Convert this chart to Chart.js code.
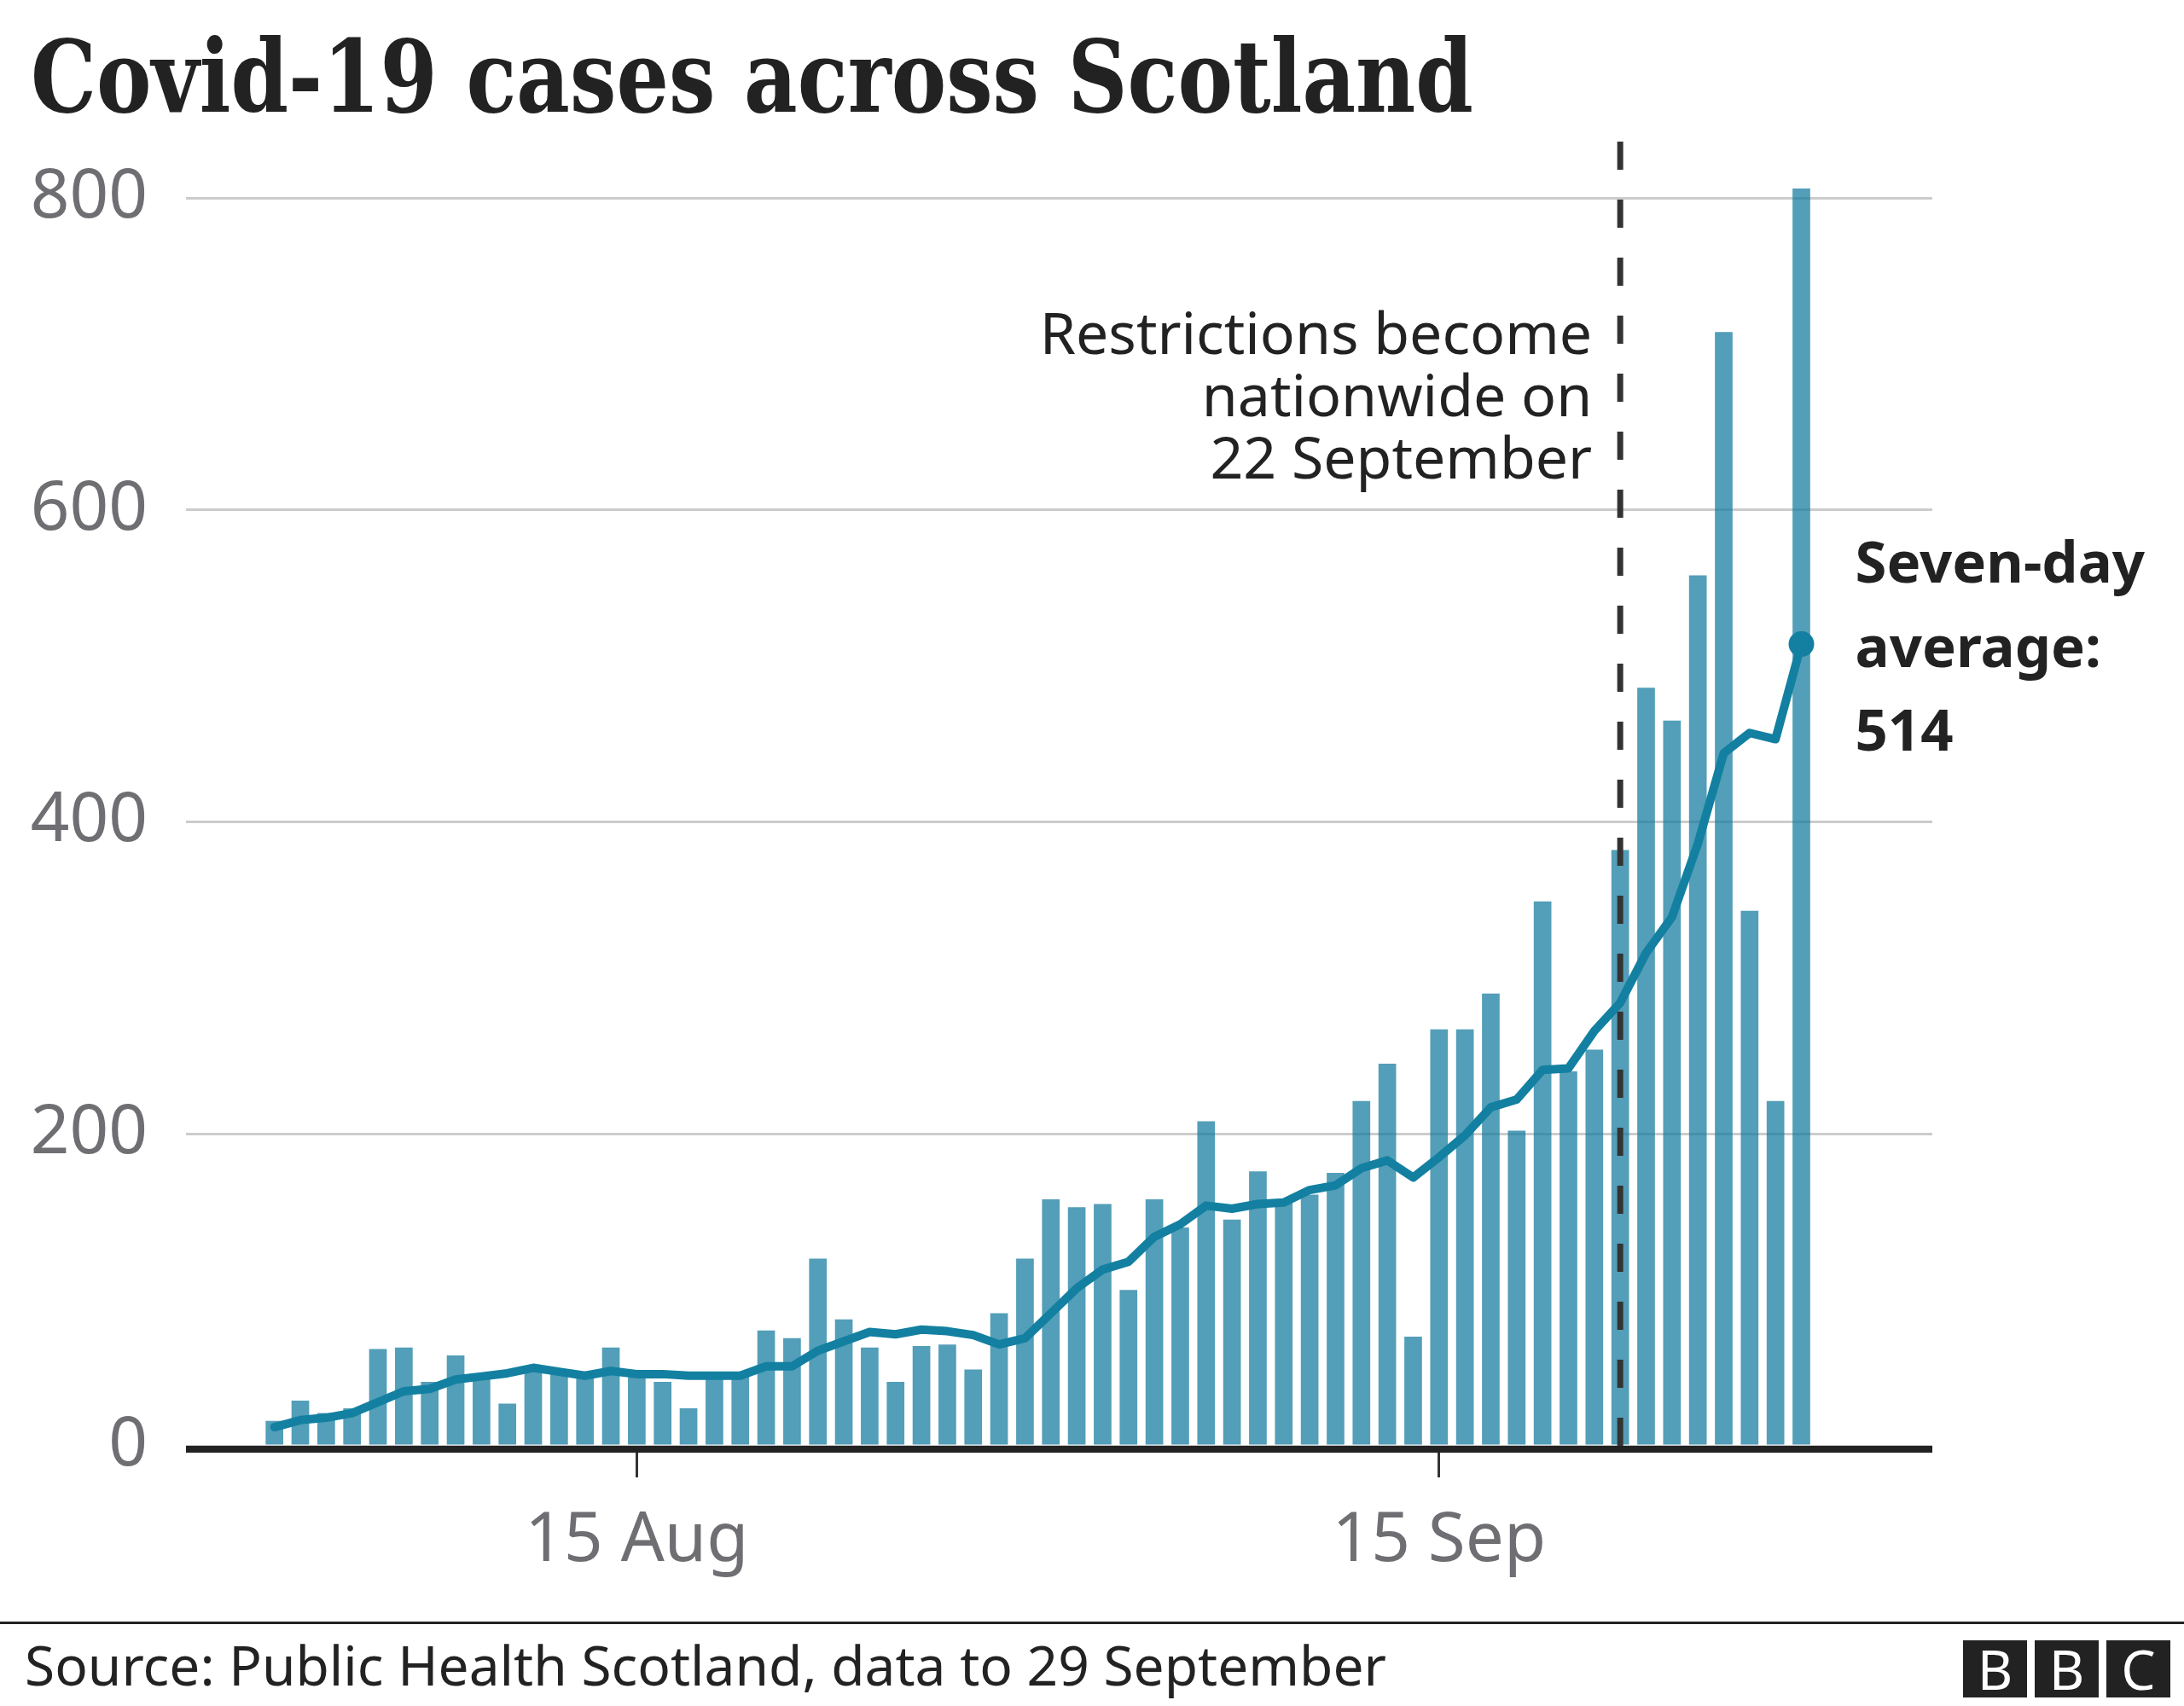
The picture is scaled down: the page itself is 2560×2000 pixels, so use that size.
<!DOCTYPE html>
<html>
<head>
<meta charset="utf-8">
<title>Covid-19 cases across Scotland</title>
<script src="https://cdn.jsdelivr.net/npm/chart.js@4.4.0/dist/chart.umd.min.js"></script>
<style>
  html, body { margin: 0; padding: 0; background: #fff; }
  #page { position: relative; width: 2560px; height: 2000px; overflow: hidden; font-family: "Noto Sans", sans-serif; color: #222; }
  #chart { position: absolute; left: 0; top: 0; }
  #title { position: absolute; left: 36px; top: 31px; font: bold 118px/118px "DejaVu Serif", serif; white-space: nowrap; transform-origin: 0 0; color: #222; }
  #note { position: absolute; font-size: 68px; line-height: 73px; text-align: right; white-space: nowrap; color: #222; }
  #avg { position: absolute; font-size: 67px; font-weight: bold; line-height: 98.5px; white-space: nowrap; color: #222; }
  #rule { position: absolute; left: 0; top: 1901px; width: 2560px; height: 3px; background: #222; }
  #source { position: absolute; left: 29px; top: 1920px; font-size: 64px; line-height: 64px; white-space: nowrap; color: #222; }
  .bbc { position: absolute; top: 1923px; width: 75px; height: 67px; background: #222; color: #fff; font-size: 64px; line-height: 67px; text-align: center; }
</style>
</head>
<body>
<div id="page">
  <canvas id="chart" width="2560" height="2000"></canvas>
  <div id="title"><span id="titleText">Covid-19 cases across Scotland</span></div>
  <div id="note"></div>
  <div id="avg"></div>
  <div id="rule"></div>
  <div id="source">Source: Public Health Scotland, data to 29 September</div>
  <div class="bbc" style="left:2301px">B</div>
  <div class="bbc" style="left:2385px">B</div>
  <div class="bbc" style="left:2469px">C</div>
</div>
<script>
// Daily cases, 1 Aug to 29 Sep 2020

const months = [["Aug", 31], ["Sep", 29]];
const dates = [];
months.forEach(([m, n]) => {
  for (let d = 1; d <= n; d++) dates.push(d + " " + m);
});

const dailyCases = [
  16, 29, 21, 24, 62, 63, 41, 58, 45, 27,
  50, 47, 45, 63, 46, 41, 24, 47, 47, 74,
  69, 120, 81, 63, 41, 64, 65, 49, 85, 120,
  158, 153, 155, 100, 158, 140, 208, 145, 176, 157,
  161, 175, 221, 245, 70, 267, 267, 290, 202, 349,
  240, 254, 382, 486, 465, 558, 714, 343, 221, 806,
];

const sevenDayAverage = [
  12, 16.5, 18, 21, 28, 35, 36.5, 42.5, 44.5, 46.5,
  50, 47.5, 45, 48, 46, 46, 45, 45, 45, 51,
  51, 61, 67, 73, 71.5, 74.5, 73.5, 71, 65, 69,
  85, 101, 113, 118, 134, 142, 154, 152, 155, 156,
  164, 167, 178, 183, 172, 185, 199, 217, 222, 241,
  242, 266, 284, 316, 339, 386, 444, 457, 453, 514,
];

const yTickValues = [0, 200, 400, 600, 800];
const xTickLabels = ["15 Aug", "15 Sep"];
const restrictionDate = "22 Sep";
const noteLines = ["Restrictions become", "nationwide on", "22 September"];
const avgLines = ["Seven-day", "average:", "514"];

const barColor = "rgba(17, 120, 157, 0.72)";
const lineColor = "#1380a1";
const tickGrey = "#6e6e73";
const tickFont = { family: "Noto Sans", size: 80 };

const overlay = {
  id: "overlay",
  afterDatasetsDraw(chart) {
    const { ctx, chartArea, scales } = chart;
    const zeroY = scales.y.getPixelForValue(0);
    ctx.save();
    // axis line
    ctx.strokeStyle = "#222";
    ctx.lineWidth = 8;
    ctx.beginPath();
    ctx.moveTo(chartArea.left, zeroY + 4);
    ctx.lineTo(chartArea.right, zeroY + 4);
    ctx.stroke();
    // restrictions marker
    const rx = scales.x.getPixelForValue(dates.indexOf(restrictionDate));
    ctx.strokeStyle = "#333";
    ctx.lineWidth = 7;
    ctx.setLineDash([33, 35]);
    ctx.beginPath();
    ctx.moveTo(rx, zeroY);
    ctx.lineTo(rx, scales.y.getPixelForValue(840));
    ctx.stroke();
    ctx.restore();
  },
};

const chart = new Chart(document.getElementById("chart"), {
  type: "bar",
  data: {
    datasets: [
      {
        type: "line",
        data: sevenDayAverage.map((v, i) => ({ x: i, y: v })),
        borderColor: lineColor,
        borderWidth: 10,
        borderJoinStyle: "round",
        borderCapStyle: "round",
        tension: 0,
        pointRadius: (c) => (c.dataIndex === sevenDayAverage.length - 1 ? 15 : 0),
        pointBackgroundColor: lineColor,
        pointBorderWidth: 0,
        order: 0,
      },
      {
        type: "bar",
        data: dailyCases.map((v, i) => ({ x: i, y: v })),
        backgroundColor: barColor,
        borderWidth: 0,
        barPercentage: 0.682,
        categoryPercentage: 1,
        clip: false,
        order: 1,
      },
    ],
  },
  options: {
    responsive: false,
    devicePixelRatio: 1,
    animation: false,
    events: [],
    layout: { padding: { left: 0, right: 295, top: 232, bottom: 105 } },
    plugins: {
      legend: { display: false },
      tooltip: { enabled: false },
    },
    scales: {
      x: {
        type: "linear",
        min: -3.418,
        max: 64.06,
        offset: false,
        afterFit: (s) => { s.height = 200; },
        afterBuildTicks: (s) => {
          s.ticks = xTickLabels.map((l) => ({ value: dates.indexOf(l) }));
        },
        grid: {
          offset: false,
          drawOnChartArea: false,
          drawTicks: true,
          tickLength: 37,
          color: "#333",
          lineWidth: 3,
        },
        border: { display: false },
        ticks: {
          font: tickFont,
          color: tickGrey,
          padding: 27,
          maxRotation: 0,
          callback: (v) => dates[v],
        },
      },
      y: {
        min: 0,
        max: 800,
        afterFit: (s) => { s.width = 218; },
        afterBuildTicks: (s) => {
          s.ticks = yTickValues.map((v) => ({ value: v }));
        },
        grid: { color: "#cccccc", lineWidth: 3, drawTicks: false },
        border: { display: false },
        ticks: {
          font: tickFont,
          color: tickGrey,
          padding: 45,
        },
      },
    },
  },
  plugins: [overlay],
});

// title squeezed to the reference width
const titleText = document.getElementById("titleText");
const titleWidth = titleText.getBoundingClientRect().width;
document.getElementById("title").style.transform = "scaleX(" + (1691 / titleWidth) + ")";

// annotation next to the dashed marker
const xs = chart.scales.x;
const ys = chart.scales.y;
const note = document.getElementById("note");
note.innerHTML = noteLines.join("<br>");
note.style.right = (2560 - (xs.getPixelForValue(dates.indexOf(restrictionDate)) - 33)) + "px";
note.style.top = (ys.getPixelForValue(700) - 63) + "px";

// label for the latest seven-day average
const avg = document.getElementById("avg");
avg.innerHTML = avgLines.join("<br>");
const last = sevenDayAverage.length - 1;
avg.style.left = (xs.getPixelForValue(last) + 63) + "px";
avg.style.top = (ys.getPixelForValue(sevenDayAverage[last]) - 72 - 75) + "px";
</script>
</body>
</html>
